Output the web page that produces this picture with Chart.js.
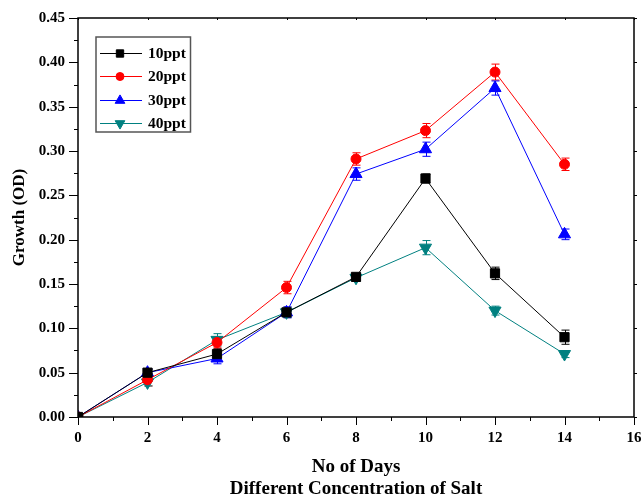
<!DOCTYPE html>
<html>
<head>
<meta charset="utf-8">
<script src="https://cdn.jsdelivr.net/npm/chart.js@4/dist/chart.umd.min.js"></script>
<style>
  body { margin: 0; background: #fff; }
  #wrap { width: 643px; height: 500px; position: relative; }
</style>
</head>
<body>
<div id="wrap"><canvas id="growth"></canvas></div>
<script>
// days and growth readings (OD)
const days = [0, 2, 4, 6, 8, 10, 12, 14];
const ppt10 = [0, 0.050, 0.071, 0.118, 0.158, 0.269, 0.162, 0.090];
const ppt20 = [0, 0.042, 0.084, 0.146, 0.291, 0.323, 0.389, 0.285];
const ppt30 = [0, 0.050, 0.066, 0.118, 0.274, 0.302, 0.371, 0.206];
const ppt40 = [0, 0.039, 0.087, 0.118, 0.157, 0.191, 0.120, 0.071];
// +/- error
const err10 = [0, 0.004, 0.006, 0.006, 0.004, 0.005, 0.007, 0.008];
const err20 = [0, 0.007, 0.006, 0.007, 0.007, 0.008, 0.009, 0.007];
const err30 = [0, 0.004, 0.006, 0.006, 0.007, 0.008, 0.008, 0.006];
const err40 = [0, 0.004, 0.007, 0.005, 0.004, 0.008, 0.005, 0.004];
const seriesNames = ['10ppt', '20ppt', '30ppt', '40ppt'];
const xTicks = [0, 2, 4, 6, 8, 10, 12, 14, 16];
const yTicks = [0, 0.05, 0.10, 0.15, 0.20, 0.25, 0.30, 0.35, 0.40, 0.45];

const serif = '"Liberation Serif", "Times New Roman", serif';

function pts(ys) { return days.map((d, i) => ({ x: d, y: ys[i] })); }

function series(label, ys, errs, color, style, rot, r) {
  return {
    label, data: pts(ys), errs,
    borderColor: color, backgroundColor: color,
    borderWidth: 1, pointStyle: style, pointRotation: rot,
    pointRadius: r, pointHoverRadius: r, pointBorderWidth: 1,
    tension: 0
  };
}

const errorBars = {
  id: 'errorBars',
  beforeDatasetsDraw(chart) {
    const ctx = chart.ctx, xs = chart.scales.x, ys = chart.scales.y;
    ctx.save();
    chart.data.datasets.forEach(ds => {
      ctx.strokeStyle = ds.borderColor;
      ctx.lineWidth = 1;
      ds.data.forEach((p, i) => {
        const e = ds.errs[i];
        if (!e) return;
        const px = Math.round(xs.getPixelForValue(p.x)) + 0.5;
        const top = ys.getPixelForValue(p.y + e), bot = ys.getPixelForValue(p.y - e);
        ctx.beginPath();
        ctx.moveTo(px, top); ctx.lineTo(px, bot);
        ctx.moveTo(px - 4, top); ctx.lineTo(px + 4, top);
        ctx.moveTo(px - 4, bot); ctx.lineTo(px + 4, bot);
        ctx.stroke();
      });
    });
    ctx.restore();
  }
};

const frame = {
  id: 'frame',
  afterDraw(chart) {
    const ctx = chart.ctx, a = chart.chartArea, xs = chart.scales.x, ys = chart.scales.y;
    ctx.save();
    ctx.strokeStyle = '#000';
    ctx.lineWidth = 1.5;
    ctx.strokeRect(a.left, a.top, a.right - a.left, a.bottom - a.top);
    ctx.lineWidth = 1;
    ctx.beginPath();
    for (let v = 0; v <= 16; v += 1) {
      const px = Math.round(xs.getPixelForValue(v)) + 0.5;
      const len = v % 2 === 0 ? 8 : 4;
      ctx.moveTo(px, a.bottom); ctx.lineTo(px, a.bottom + len);
      if (v % 2 === 0) { ctx.moveTo(px, a.top); ctx.lineTo(px, a.top + 2); }
    }
    for (let k = 0; k <= 18; k++) {
      const py = Math.round(ys.getPixelForValue(k * 0.025)) + 0.5;
      const len = k % 2 === 0 ? 9 : 4;
      ctx.moveTo(a.left, py); ctx.lineTo(a.left - len, py);
      if (k % 2 === 0) { ctx.moveTo(a.right, py); ctx.lineTo(a.right + 3, py); }
    }
    ctx.stroke();

    // legend: line + marker like the original
    ctx.strokeStyle = '#555';
    ctx.lineWidth = 1.5;
    ctx.strokeRect(96, 37, 94.5, 95);
    const rows = [53, 76, 100, 123];
    chart.data.datasets.forEach((ds, i) => {
      const y = rows[i];
      ctx.strokeStyle = ds.borderColor;
      ctx.lineWidth = 1;
      ctx.beginPath(); ctx.moveTo(100, y + 0.5); ctx.lineTo(142, y + 0.5); ctx.stroke();
      ctx.fillStyle = ds.backgroundColor;
      Chart.helpers.drawPoint(ctx, { pointStyle: ds.pointStyle, rotation: ds.pointRotation, radius: ds.pointRadius * 0.8, borderWidth: 1 }, 120, y + 0.5);
      ctx.fillStyle = '#000';
      ctx.font = 'bold 15.5px ' + serif;
      ctx.textBaseline = 'middle';
      ctx.textAlign = 'left';
      ctx.fillText(seriesNames[i], 148, y + 1);
    });
    ctx.restore();
  }
};

new Chart(document.getElementById('growth'), {
  type: 'line',
  data: {
    datasets: [
      series(seriesNames[0], ppt10, err10, '#000000', 'rect', 0, 6.5),
      series(seriesNames[1], ppt20, err20, '#ff0000', 'circle', 0, 5),
      series(seriesNames[2], ppt30, err30, '#0000ff', 'triangle', 0, 7),
      series(seriesNames[3], ppt40, err40, '#008080', 'triangle', 180, 7)
    ]
  },
  options: {
    responsive: true,
    maintainAspectRatio: false,
    animation: false,
    layout: { padding: { top: 18, right: 9, bottom: 0, left: 0 } },
    plugins: { legend: { display: false }, tooltip: { enabled: false } },
    scales: {
      x: {
        type: 'linear', min: 0, max: 16,
        afterBuildTicks: s => { s.ticks = xTicks.map(v => ({ value: v })); },
        afterFit: s => { s.height = 83; s.paddingLeft = 0; s.paddingRight = 0; },
        grid: { display: false, drawTicks: false },
        border: { display: false },
        ticks: { color: '#000', padding: 12, maxRotation: 0, font: { family: serif, size: 15, weight: 'bold' } },
        title: {
          display: true, text: ['No of Days', 'Different Concentration of Salt'],
          color: '#000', padding: { top: 0, bottom: 0 },
          font: { family: serif, size: 19, weight: 'bold', lineHeight: '22px' }
        }
      },
      y: {
        type: 'linear', min: 0, max: 0.45,
        afterBuildTicks: s => { s.ticks = yTicks.map(v => ({ value: v })); },
        afterFit: s => { s.width = 78; s.paddingTop = 0; s.paddingBottom = 0; },
        grid: { display: false, drawTicks: false },
        border: { display: false },
        ticks: {
          color: '#000', padding: 13,
          font: { family: serif, size: 15, weight: 'bold' },
          callback: v => v.toFixed(2)
        },
        title: {
          display: true, text: 'Growth (OD)', color: '#000',
          padding: { top: 9, bottom: 0 },
          font: { family: serif, size: 17, weight: 'bold' }
        }
      }
    }
  },
  plugins: [errorBars, frame]
});
</script>
</body>
</html>
